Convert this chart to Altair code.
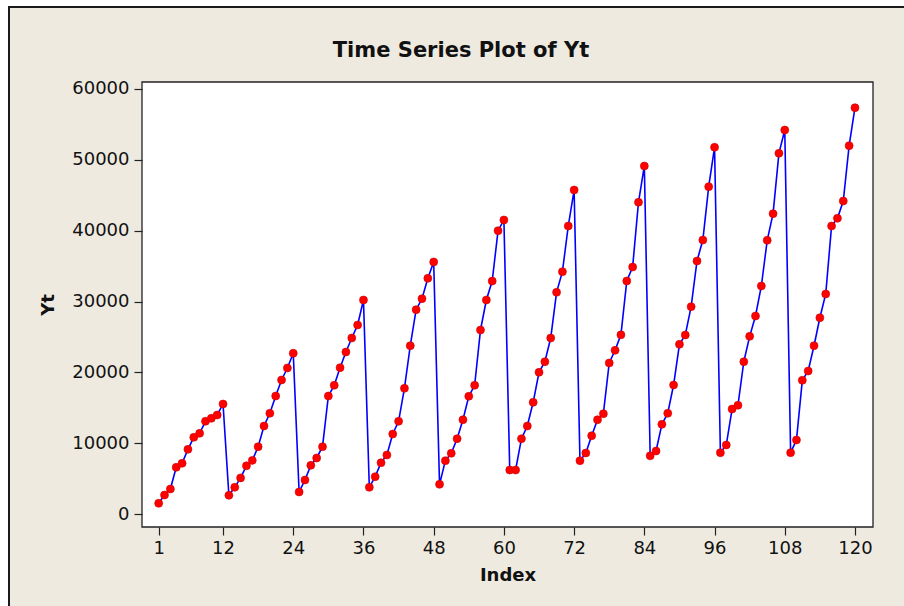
import altair as alt
import pandas as pd

# Yt values by year (12 per cycle)
year1 = [1510, 2680, 3530, 6590, 7160, 9130, 10830, 11390, 13090, 13510, 13980, 15530]
year2 = [2640, 3770, 5100, 6800, 7570, 9500, 12420, 14220, 16660, 18920, 20610, 22690]
year3 = [3110, 4800, 6870, 7910, 9500, 16660, 18170, 20660, 22870, 24850, 26680, 30210]
year4 = [3770, 5270, 7240, 8330, 11290, 13090, 17740, 23760, 28850, 30400, 33270, 35580]
year5 = [4190, 7530, 8570, 10630, 13310, 16620, 18170, 25980, 30210, 32880, 40000, 41510]
year6 = [6210, 6210, 10630, 12420, 15770, 20000, 21500, 24850, 31300, 34210, 40660, 45740]
year7 = [7530, 8610, 11050, 13310, 14160, 21320, 23110, 25290, 32900, 34870, 44010, 49130]
year8 = [8210, 8890, 12660, 14220, 18210, 23950, 25270, 29270, 35720, 38680, 46210, 51770]
year9 = [8660, 9740, 14820, 15350, 21500, 25080, 27950, 32190, 38640, 42400, 50920, 54210]
year10 = [8660, 10450, 18870, 20190, 23760, 27710, 31060, 40660, 41750, 44190, 52000, 57360]

x_ticks = [1, 12, 24, 36, 48, 60, 72, 84, 96, 108, 120]
y_ticks = [0, 10000, 20000, 30000, 40000, 50000, 60000]
title_text = "Time Series Plot of Yt"

values = year1 + year2 + year3 + year4 + year5 + year6 + year7 + year8 + year9 + year10
df = pd.DataFrame({"Index": list(range(1, len(values) + 1)), "Yt": values})

W, H = 731, 445
FONT = "DejaVu Sans"
INK = "#111111"

x_scale = alt.Scale(domain=[-1.85, 123.08], nice=False, zero=False)
y_scale = alt.Scale(domain=[-1835, 60988], nice=False, zero=False)

x_axis = alt.Axis(values=x_ticks, title="Index", grid=False, domain=False,
                  tickSize=8, tickColor="#222222", tickWidth=1.2,
                  labelFont=FONT, labelFontSize=18, labelColor=INK, labelPadding=4,
                  titleFont=FONT, titleFontSize=18, titleFontWeight="bold",
                  titleColor=INK, titlePadding=9, zindex=1)
y_axis = alt.Axis(values=y_ticks, title="Yt", grid=False, domain=False, format="d",
                  tickSize=8, tickColor="#222222", tickWidth=1.2,
                  labelFont=FONT, labelFontSize=18, labelColor=INK, labelPadding=5,
                  titleFont=FONT, titleFontSize=18, titleFontWeight="bold",
                  titleColor=INK, titlePadding=14, zindex=1)

one = alt.Data(values=[{"k": 1}])

frame = alt.Chart(one).mark_rect(fill="#EEEAE0", stroke="#1a1a1a", strokeWidth=2).encode(
    x=alt.value(-133), x2=alt.value(820), y=alt.value(-75), y2=alt.value(620))

plot_bg = alt.Chart(one).mark_rect(fill="white", stroke="#222222", strokeWidth=1.3).encode(
    x=alt.value(0), x2=alt.value(W), y=alt.value(0), y2=alt.value(H))

title = alt.Chart(one).mark_text(font=FONT, fontSize=21, fontWeight="bold", color=INK,
                                 align="center", baseline="middle").encode(
    text=alt.value(title_text), x=alt.value(319), y=alt.value(-31))

base = alt.Chart(df).encode(
    x=alt.X("Index:Q", scale=x_scale, axis=x_axis),
    y=alt.Y("Yt:Q", scale=y_scale, axis=y_axis),
)

line = base.mark_line(color="#0000FF", strokeWidth=1.6)
pts = base.mark_point(filled=True, size=64, shape="circle", color="#FF0000",
                      stroke="#D00000", strokeWidth=0.6, opacity=1)

chart = alt.layer(frame, plot_bg, title, line, pts).properties(
    width=W, height=H,
    autosize="none",
    padding={"left": 142, "top": 82, "right": 31, "bottom": 79},
    background="white",
).configure_view(strokeWidth=0)

chart.save("out.html", embed_options={"renderer": "svg", "actions": False})
